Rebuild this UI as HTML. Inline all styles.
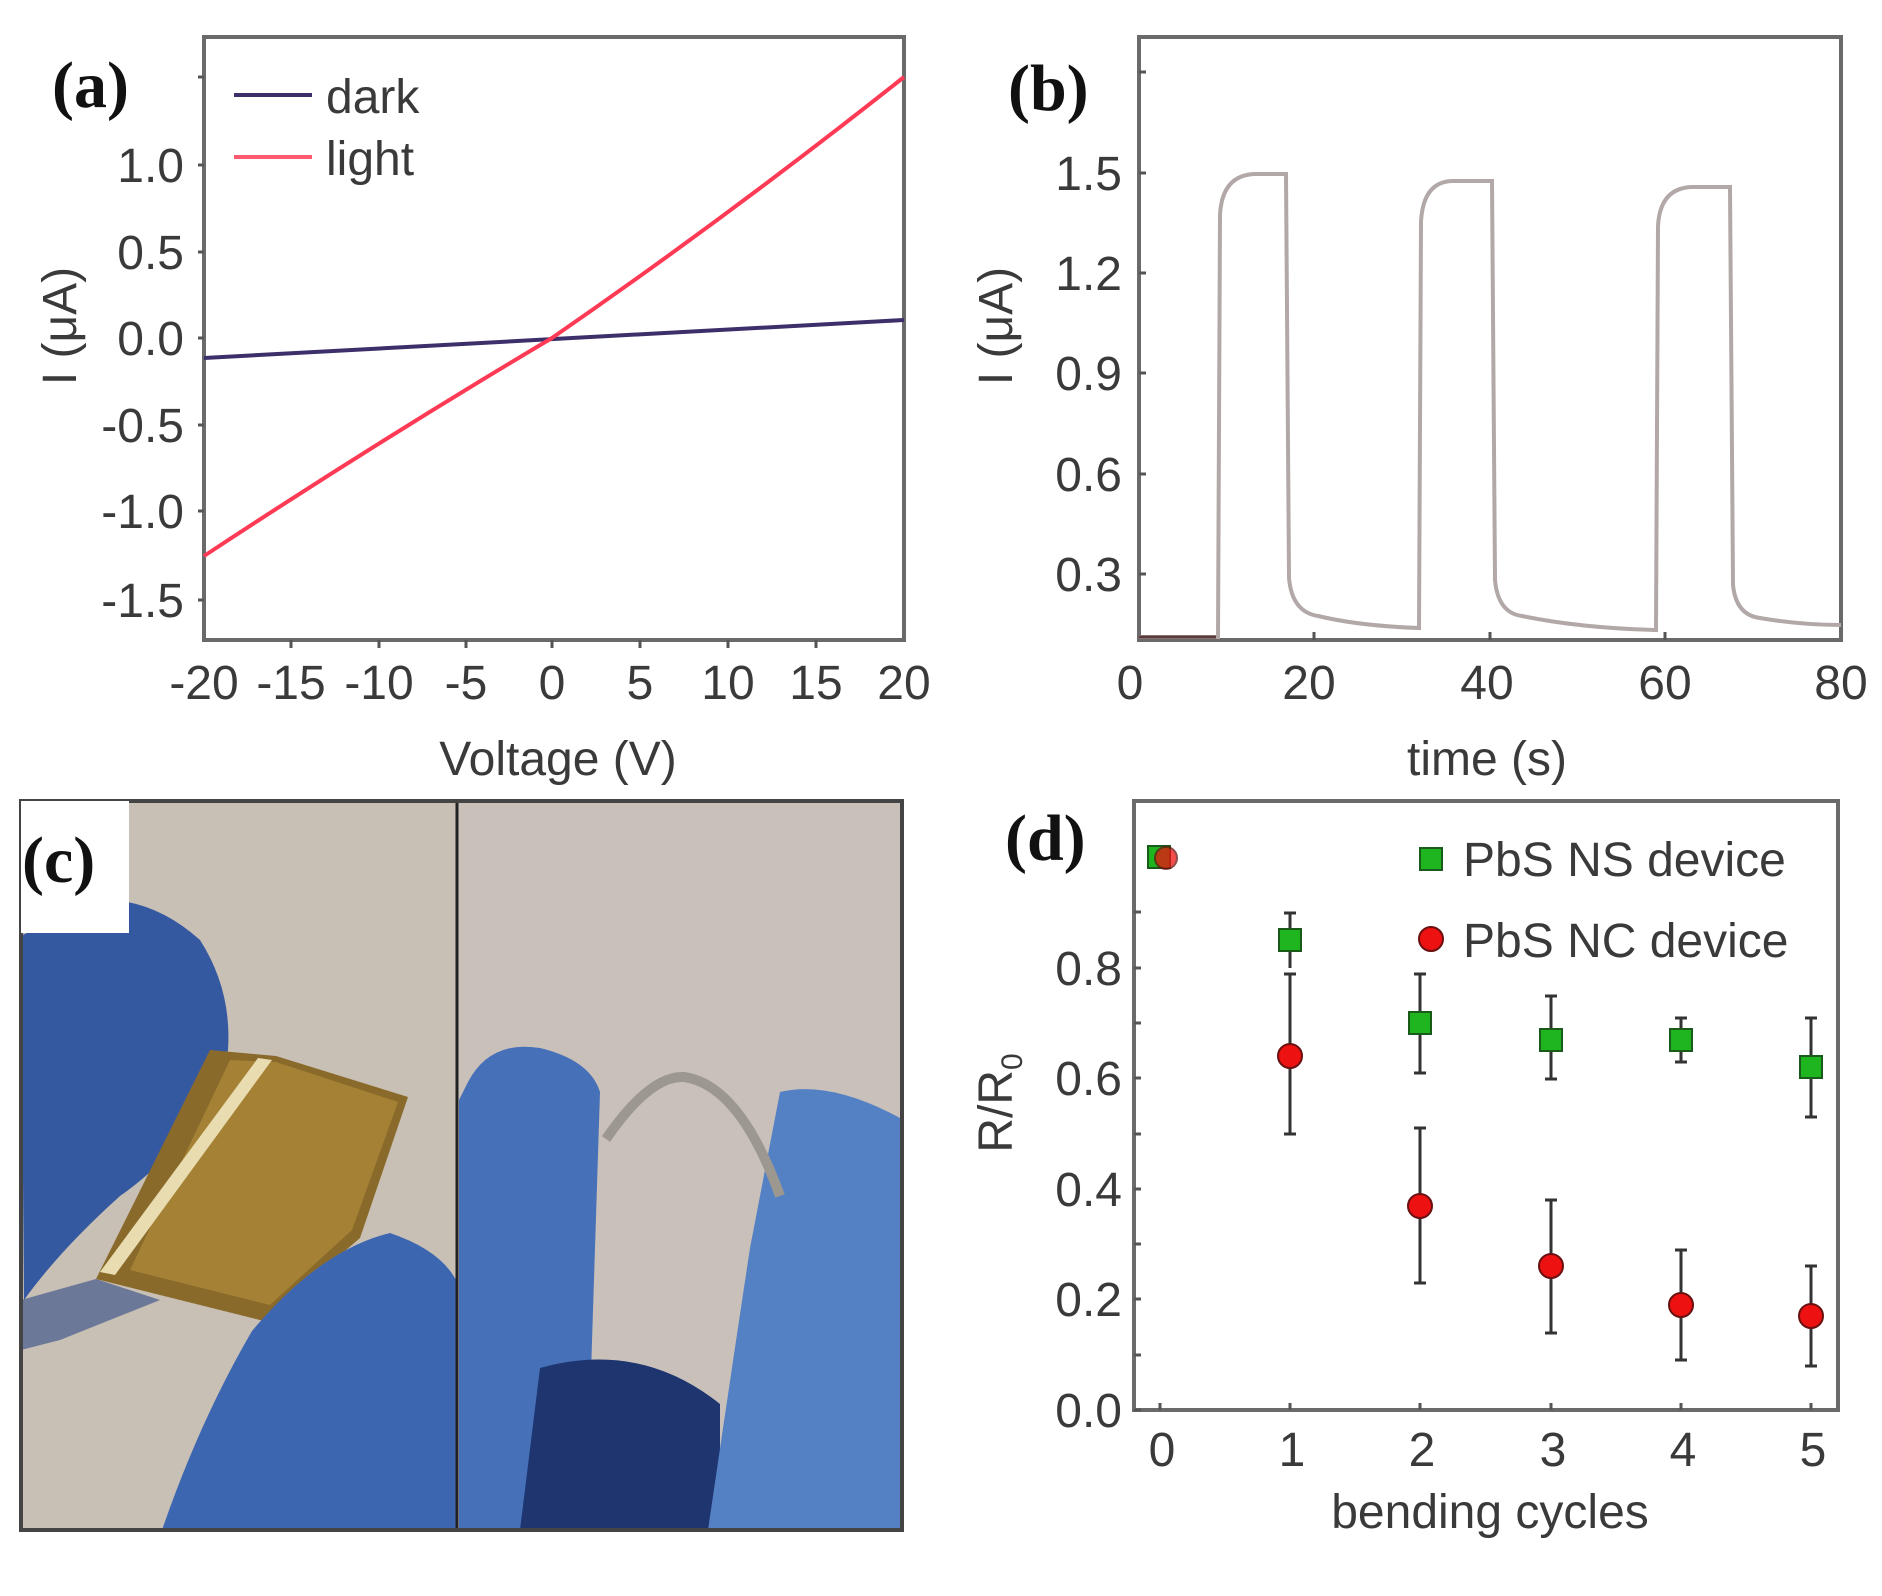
<!DOCTYPE html>
<html><head><meta charset="utf-8"><style>
html,body{margin:0;padding:0;background:#fff}
svg{display:block}
.t{font-family:"Liberation Sans",sans-serif;fill:#3a3a3a;font-size:48px}
.l{font-family:"Liberation Serif",serif;font-weight:bold;fill:#111;font-size:66px}
</style></head><body>
<svg width="1882" height="1596" viewBox="0 0 1882 1596" xmlns="http://www.w3.org/2000/svg">
<rect width="1882" height="1596" fill="#fff"/>
<!-- Panel a -->
<g>
<rect x="204" y="37" width="700" height="603" fill="none" stroke="#6a6a6a" stroke-width="4"/>
<g stroke="#555" stroke-width="3">
<line x1="198" y1="77" x2="204" y2="77"/><line x1="198" y1="165" x2="204" y2="165"/><line x1="198" y1="252" x2="204" y2="252"/><line x1="198" y1="338" x2="204" y2="338"/><line x1="198" y1="425" x2="204" y2="425"/><line x1="198" y1="511" x2="204" y2="511"/><line x1="198" y1="600" x2="204" y2="600"/>
<line x1="291" y1="640" x2="291" y2="648"/><line x1="379" y1="640" x2="379" y2="648"/><line x1="466" y1="640" x2="466" y2="648"/><line x1="552" y1="640" x2="552" y2="648"/><line x1="640" y1="640" x2="640" y2="648"/><line x1="728" y1="640" x2="728" y2="648"/><line x1="816" y1="640" x2="816" y2="648"/>
</g>
<g class="t" text-anchor="end">
<text x="184" y="182">1.0</text><text x="184" y="269">0.5</text><text x="184" y="355">0.0</text><text x="184" y="442">-0.5</text><text x="184" y="528">-1.0</text><text x="184" y="617">-1.5</text>
</g>
<g class="t" text-anchor="middle">
<text x="204" y="699">-20</text><text x="291" y="699">-15</text><text x="379" y="699">-10</text><text x="466" y="699">-5</text><text x="552" y="699">0</text><text x="640" y="699">5</text><text x="728" y="699">10</text><text x="816" y="699">15</text><text x="904" y="699">20</text>
<text x="558" y="775">Voltage (V)</text>
<text transform="translate(76,326) rotate(-90)">I (μA)</text>
</g>
<line x1="204" y1="358" x2="904" y2="320" stroke="#3c2f6a" stroke-width="4"/>
<path d="M204,556 Q380,440 552,338 Q730,215 904,77" fill="none" stroke="#ff3a55" stroke-width="4"/>
<line x1="234" y1="95" x2="312" y2="95" stroke="#3c2f6a" stroke-width="4"/>
<line x1="234" y1="157" x2="312" y2="157" stroke="#ff5a70" stroke-width="4"/>
<text class="t" x="326" y="113">dark</text><text class="t" x="326" y="175">light</text>
<text class="l" x="52" y="107">(a)</text>
</g>
<!-- Panel b -->
<g>
<rect x="1139" y="37" width="702" height="603" fill="none" stroke="#6a6a6a" stroke-width="4"/>
<g stroke="#555" stroke-width="3">
<line x1="1139" y1="72" x2="1146" y2="72"/><line x1="1139" y1="173" x2="1146" y2="173"/><line x1="1139" y1="273" x2="1146" y2="273"/><line x1="1139" y1="373" x2="1146" y2="373"/><line x1="1139" y1="474" x2="1146" y2="474"/><line x1="1139" y1="574" x2="1146" y2="574"/>
<line x1="1314" y1="632" x2="1314" y2="640"/><line x1="1490" y1="632" x2="1490" y2="640"/><line x1="1665" y1="632" x2="1665" y2="640"/>
</g>
<g class="t" text-anchor="end">
<text x="1122" y="190">1.5</text><text x="1122" y="290">1.2</text><text x="1122" y="390">0.9</text><text x="1122" y="491">0.6</text><text x="1122" y="591">0.3</text>
</g>
<g class="t" text-anchor="middle">
<text x="1130" y="699">0</text><text x="1309" y="699">20</text><text x="1487" y="699">40</text><text x="1665" y="699">60</text><text x="1841" y="699">80</text>
<text x="1487" y="775">time (s)</text>
<text transform="translate(1012,326) rotate(-90)">I (μA)</text>
</g>
<path d="M1139,637 L1218,637 L1220,215 Q1222,175 1255,174 L1286,174 L1289,578 Q1292,612 1318,616 Q1360,626 1419,628 L1421,222 Q1423,182 1452,181 L1492,181 L1495,580 Q1498,613 1522,616 Q1580,628 1656,630 L1658,226 Q1660,188 1692,187 L1730,187 L1733,585 Q1736,615 1760,618 Q1800,625 1841,625" fill="none" stroke="#b2a8a8" stroke-width="4"/>
<line x1="1139" y1="637" x2="1216" y2="637" stroke="#5a3a3a" stroke-width="3"/>
<text class="l" x="1008" y="110">(b)</text>
</g>
<!-- Panel c -->
<g>
<rect x="21" y="801" width="881" height="729" fill="#c9c1b9"/>
<rect x="21" y="801" width="436" height="729" fill="#c8bfb5"/>
<path d="M21,936 L90,900 Q150,895 200,940 Q232,990 228,1050 Q200,1140 120,1196 Q60,1250 24,1300 Z" fill="#3559a0"/>
<path d="M210,1050 L276,1056 L408,1097 L360,1238 L264,1321 L96,1279 Z" fill="#8a6a2a"/>
<path d="M230,1060 L276,1062 L398,1102 L352,1230 L270,1305 L130,1270 Z" fill="#b08c3a" opacity="0.7"/>
<path d="M258,1058 L272,1060 L115,1275 L100,1272 Z" fill="#e8dcb0"/>
<path d="M390,1233 Q440,1250 456,1280 L456,1530 L162,1530 Q200,1420 252,1331 Q320,1250 390,1233 Z" fill="#3d66b0"/>
<path d="M21,1300 L96,1279 L160,1300 L60,1340 L21,1350 Z" fill="#2d4a85" opacity="0.6"/>
<path d="M468,1082 Q490,1040 540,1048 Q590,1060 600,1092 L590,1404 Q560,1480 528,1530 L459,1530 L459,1100 Z" fill="#4670b8"/>
<path d="M540,1368 Q640,1340 720,1404 L720,1530 L520,1530 Z" fill="#1e3570"/>
<path d="M780,1092 Q830,1080 900,1118 L900,1530 L708,1530 Q730,1380 750,1248 Z" fill="#5480c4"/>
<path d="M606,1139 Q650,1075 684,1077 Q740,1085 780,1196" fill="none" stroke="#9c9890" stroke-width="10"/>
<line x1="457" y1="801" x2="457" y2="1530" stroke="#222" stroke-width="3"/>
<rect x="21" y="801" width="881" height="729" fill="none" stroke="#444" stroke-width="4"/>
<rect x="21" y="801" width="108" height="132" fill="#fff"/>
<text class="l" x="22" y="882">(c)</text>
</g>
<!-- Panel d -->
<g>
<rect x="1134" y="801" width="704" height="609" fill="none" stroke="#6a6a6a" stroke-width="4"/>
<g stroke="#555" stroke-width="3">
<line x1="1134" y1="1410" x2="1141" y2="1410"/><line x1="1134" y1="1299" x2="1141" y2="1299"/><line x1="1134" y1="1189" x2="1141" y2="1189"/><line x1="1134" y1="1078" x2="1141" y2="1078"/><line x1="1134" y1="968" x2="1141" y2="968"/><line x1="1134" y1="912" x2="1141" y2="912"/><line x1="1134" y1="1023" x2="1141" y2="1023"/><line x1="1134" y1="1134" x2="1141" y2="1134"/><line x1="1134" y1="1244" x2="1141" y2="1244"/><line x1="1134" y1="1355" x2="1141" y2="1355"/>
<line x1="1160" y1="1403" x2="1160" y2="1410"/><line x1="1290" y1="1403" x2="1290" y2="1410"/><line x1="1420" y1="1403" x2="1420" y2="1410"/><line x1="1551" y1="1403" x2="1551" y2="1410"/><line x1="1681" y1="1403" x2="1681" y2="1410"/><line x1="1811" y1="1403" x2="1811" y2="1410"/>
</g>
<g class="t" text-anchor="end">
<text x="1122" y="1427">0.0</text><text x="1122" y="1316">0.2</text><text x="1122" y="1206">0.4</text><text x="1122" y="1095">0.6</text><text x="1122" y="985">0.8</text>
</g>
<g class="t" text-anchor="middle">
<text x="1162" y="1466">0</text><text x="1292" y="1466">1</text><text x="1422" y="1466">2</text><text x="1553" y="1466">3</text><text x="1683" y="1466">4</text><text x="1813" y="1466">5</text>
<text x="1490" y="1528">bending cycles</text>
<text transform="translate(1012,1103) rotate(-90)">R/R<tspan font-size="30" dy="10">0</tspan></text>
</g>
<g stroke="#333" stroke-width="3">
<line x1="1290" y1="913" x2="1290" y2="968"/><line x1="1284" y1="913" x2="1296" y2="913"/>
<line x1="1420" y1="974" x2="1420" y2="1073"/><line x1="1414" y1="974" x2="1426" y2="974"/><line x1="1414" y1="1073" x2="1426" y2="1073"/>
<line x1="1551" y1="996" x2="1551" y2="1079"/><line x1="1545" y1="996" x2="1557" y2="996"/><line x1="1545" y1="1079" x2="1557" y2="1079"/>
<line x1="1681" y1="1018" x2="1681" y2="1062"/><line x1="1675" y1="1018" x2="1687" y2="1018"/><line x1="1675" y1="1062" x2="1687" y2="1062"/>
<line x1="1811" y1="1018" x2="1811" y2="1117"/><line x1="1805" y1="1018" x2="1817" y2="1018"/><line x1="1805" y1="1117" x2="1817" y2="1117"/>
<line x1="1290" y1="974" x2="1290" y2="1134"/><line x1="1284" y1="974" x2="1296" y2="974"/><line x1="1284" y1="1134" x2="1296" y2="1134"/>
<line x1="1420" y1="1128" x2="1420" y2="1283"/><line x1="1414" y1="1128" x2="1426" y2="1128"/><line x1="1414" y1="1283" x2="1426" y2="1283"/>
<line x1="1551" y1="1200" x2="1551" y2="1333"/><line x1="1545" y1="1200" x2="1557" y2="1200"/><line x1="1545" y1="1333" x2="1557" y2="1333"/>
<line x1="1681" y1="1250" x2="1681" y2="1360"/><line x1="1675" y1="1250" x2="1687" y2="1250"/><line x1="1675" y1="1360" x2="1687" y2="1360"/>
<line x1="1811" y1="1266" x2="1811" y2="1366"/><line x1="1805" y1="1266" x2="1817" y2="1266"/><line x1="1805" y1="1366" x2="1817" y2="1366"/>
</g>
<g fill="#1fb51f" stroke="#1a5a1a" stroke-width="2">
<rect x="1148" y="846" width="22" height="22"/>
<rect x="1279" y="929" width="22" height="22"/><rect x="1409" y="1012" width="22" height="22"/><rect x="1540" y="1029" width="22" height="22"/><rect x="1670" y="1029" width="22" height="22"/><rect x="1800" y="1056" width="22" height="22"/>
<rect x="1420" y="848" width="22" height="22"/>
</g>
<g fill="#ee1111" stroke="#6a1010" stroke-width="2">
<circle cx="1166" cy="858" r="11" opacity="0.75"/>
<circle cx="1290" cy="1056" r="12"/><circle cx="1420" cy="1206" r="12"/><circle cx="1551" cy="1266" r="12"/><circle cx="1681" cy="1305" r="12"/><circle cx="1811" cy="1316" r="12"/>
<circle cx="1431" cy="939" r="12"/>
</g>
<text class="t" x="1463" y="876">PbS NS device</text>
<text class="t" x="1463" y="957">PbS NC device</text>
<text class="l" x="1005" y="860">(d)</text>
</g>
</svg>
</body></html>
